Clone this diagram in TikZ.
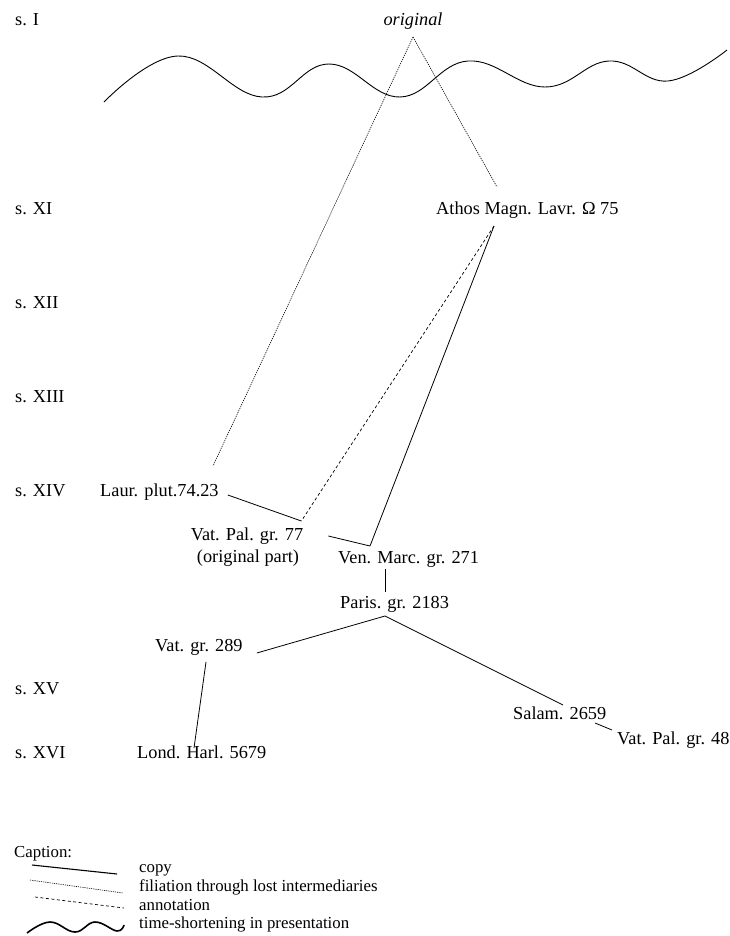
\documentclass[tikz,border=0pt]{standalone}
\usepackage{fontspec}
\setmainfont{Liberation Serif}
\usetikzlibrary{calc}
\tikzset{
  lbl/.style={inner sep=0pt, font=\fontsize{18.3}{22}\selectfont},
  cent/.style={lbl, anchor=base west},
  ms/.style={lbl, anchor=base west},
  capt/.style={inner sep=0pt, anchor=base west, font=\fontsize{16.8}{20}\selectfont},
  copyln/.style={line width=0.8pt},
  lost/.style={line width=0.6pt, dash pattern=on 1.2pt off 1pt},
  annot/.style={line width=0.7pt, dash pattern=on 3pt off 2.5pt},
  wavy/.style={line width=0.9pt},
}
\begin{document}
\begin{tikzpicture}[x=1pt,y=-1pt]
\useasboundingbox (0,0) rectangle (729,936);
% century labels
\node[cent] (sI)    at (15,26)  {s. I};
\node[cent] (sXI)   at (15,214) {s. XI};
\node[cent] (sXII)  at (15,308) {s. XII};
\node[cent] (sXIII) at (15,402) {s. XIII};
\node[cent] (sXIV)  at (15,496) {s. XIV};
\node[cent] (sXV)   at (15,694) {s. XV};
\node[cent] (sXVI)  at (15,758) {s. XVI};
% manuscripts
\node[lbl, anchor=base, font=\fontsize{18.3}{22}\selectfont\itshape] (orig) at (413,26) {original};
\node[ms] (athos)  at (436,214) {Athos Magn. Lavr. Ω 75};
\node[ms] (laur)   at (100,496) {Laur. plut.74.23};
\node[lbl, anchor=base] (vat77)  at (247,540) {Vat. Pal. gr. 77};
\node[lbl, anchor=base] (vat77b) at (248,562) {(original part)};
\node[ms] (ven)    at (338,563) {Ven. Marc. gr. 271};
\node[ms] (paris)  at (340,608) {Paris. gr. 2183};
\node[ms] (vat289) at (155,651) {Vat. gr. 289};
\node[ms] (salam)  at (513,719) {Salam. 2659};
\node[ms] (vat48)  at (617,744) {Vat. Pal. gr. 48};
\node[ms] (lond)   at (137,758) {Lond. Harl. 5679};
% time-shortening wave
\draw[wavy] plot[smooth, tension=0.7] coordinates {(104,102) (178,56) (262,97) (329,64) (400,97) (468,61) (545,87) (609,61) (668,81) (727,50)};
% junction points
\coordinate (apex) at ($(orig.base)+(0,11)$);
\coordinate (athosfoot) at ($(athos.base west)+(58,12)$);
\coordinate (j77) at ($(vat77.base east)+(-2,-19)$);
\coordinate (jven) at ($(ven.base west)+(32,-17)$);
\coordinate (parisfoot) at ($(paris.base west)+(45,8)$);
% connectors
\draw[lost] (apex) -- ($(athos.base west)+(61,-27)$);
\draw[lost] (apex) -- ($(laur.base west)+(113,-30)$);
\draw[copyln] ($(laur.base east)+(9,-1)$) -- (j77);
\draw[annot] (athosfoot) -- (j77);
\draw[copyln] (athosfoot) -- (jven);
\draw[copyln] ($(vat77.base east)+(25,-4)$) -- (jven);
\draw[copyln] ($(ven.base west)+(47,6)$) -- ($(paris.base west)+(45,-16)$);
\draw[copyln] (parisfoot) -- ($(vat289.base east)+(14,2)$);
\draw[copyln] (parisfoot) -- ($(salam.base west)+(50,-14)$);
\draw[copyln] ($(vat289.base west)+(51,11)$) -- ($(lond.base west)+(57,-10)$);
\draw[copyln] ($(salam.base west)+(82,4)$) -- ($(vat48.base west)+(-5,-14)$);
% caption
\node[capt] (caption) at (14,857) {Caption:};
\node[capt] (lcopy)   at (139,872) {copy};
\node[capt] (lfil)    at (139,891) {filiation through lost intermediaries};
\node[capt] (lann)    at (139,910) {annotation};
\node[capt] (ltime)   at (139,928) {time-shortening in presentation};
\draw[line width=1.1pt] ($(lcopy.base west)+(-107,-7)$) -- ($(lcopy.base west)+(-22,2)$);
\draw[lost] ($(lfil.base west)+(-109,-11)$) -- ($(lfil.base west)+(-16,2)$);
\draw[annot] ($(lann.base west)+(-104,-13)$) -- ($(lann.base west)+(-15,-2)$);
\draw[line width=1.6pt] plot[smooth, tension=0.7] coordinates {($(ltime.base west)+(-112,5)$) ($(ltime.base west)+(-89,-6)$) ($(ltime.base west)+(-64,4)$) ($(ltime.base west)+(-44,-6)$) ($(ltime.base west)+(-22,3)$) ($(ltime.base west)+(-15,-3)$)};
\end{tikzpicture}
\end{document}
